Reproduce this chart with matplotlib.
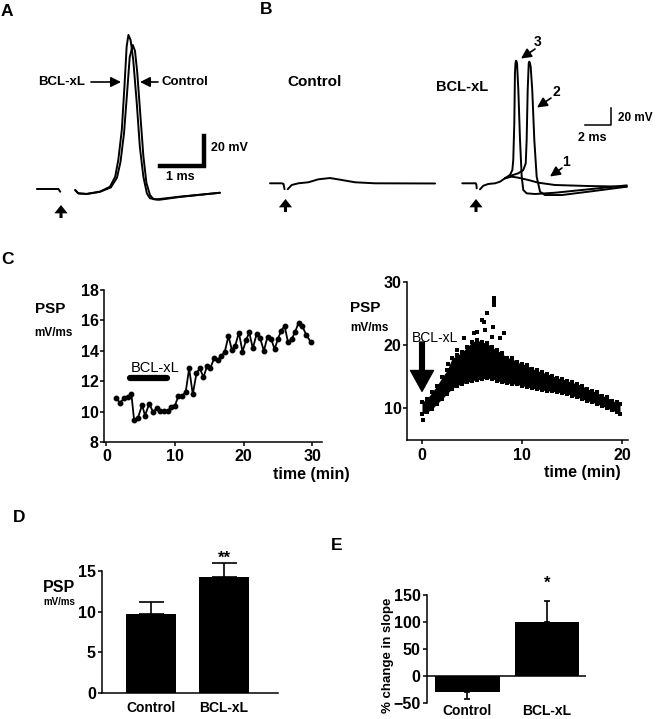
import matplotlib
matplotlib.use("Agg")
import matplotlib.pyplot as plt

plt.rcParams['font.family'] = ['Liberation Sans', 'DejaVu Sans']
plt.rcParams['font.weight'] = 'bold'
plt.rcParams['axes.linewidth'] = 1.1
plt.rcParams['axes.facecolor'] = 'none'

W, H = 656, 719

# ---------------- data ----------------
# Panel A (time in ms, potential in mV relative to baseline)
a_pre_t = [0.02, 0.51, 0.55]
a_pre_v = [0.0, 0.0, -1.8]
a_bcl_t = [0.89, 0.96, 1.15, 1.45, 1.68, 1.80, 1.87, 1.95, 2.01, 2.06, 2.10, 2.15, 2.21,
           2.29, 2.36, 2.44, 2.52, 2.59, 2.74, 3.27, 4.18]
a_bcl_v = [-0.7, -2.9, -3.3, -1.8, 1.5, 8.2, 19.3, 39.3, 68.2, 94.9, 102.7, 99.3, 86.0,
           57.3, 28.2, 8.2, -2.9, -6.2, -6.9, -5.1, -2.5]
a_ctl_t = [0.89, 0.96, 1.15, 1.45, 1.70, 1.84, 1.92, 2.00, 2.07, 2.13, 2.20, 2.25, 2.30,
           2.37, 2.44, 2.51, 2.59, 2.67, 2.80, 3.27, 4.18]
a_ctl_v = [-0.7, -2.9, -3.3, -1.9, 1.0, 7.5, 18.0, 37.0, 64.0, 88.0, 96.0, 92.0, 78.0,
           50.0, 22.0, 4.0, -4.0, -6.8, -7.2, -5.3, -2.5]

# Panel B control
bc_pre_t = [0.0, 0.9, 1.04, 1.12]
bc_pre_v = [0.0, 0.0, -0.8, -7.0]
bc_t = [1.36, 1.67, 2.18, 2.95, 3.72, 4.62, 5.52, 6.54, 8.08, 12.7]
bc_v = [-7.0, -2.0, 0.0, 1.2, 4.7, 6.2, 3.9, 1.2, 0.0, -0.2]

# Panel B BCL-xL
bb_pre_t = [0.0, 1.03, 1.08, 1.11]
bb_pre_v = [0.0, 0.0, -1.5, -5.9]
bb_com_t = [1.36, 1.62, 2.0, 2.52, 2.90, 3.28]
bb_com_v = [-7.1, -2.8, -0.8, 0.0, 1.9, 5.9]
bb1_t = [3.28, 3.80, 4.31, 5.08, 5.85, 7.13, 9.69, 12.65]
bb1_v = [5.9, 7.8, 6.6, 3.9, 0.7, -2.0, -3.2, -4.0]
bb3_t = [3.28, 3.67, 3.85, 3.92, 4.0, 4.05, 4.09, 4.13, 4.17, 4.21, 4.31, 4.44, 4.57,
         4.69, 4.95, 5.59, 7.13, 9.69, 12.65]
bb3_v = [5.9, 9.8, 15.6, 27.4, 70.6, 129.4, 141.0, 144.2, 143.5, 141.2, 109.8, 50.9, 7.8,
         -7.9, -11.8, -12.6, -11.1, -7.1, -2.4]
bb2_t = [3.28, 3.67, 4.31, 4.69, 4.88, 4.95, 5.03, 5.11, 5.15, 5.20, 5.26, 5.38, 5.54,
         5.72, 5.98, 6.36, 7.65, 9.69, 12.65]
bb2_v = [5.9, 8.6, 11.8, 15.6, 23.5, 50.9, 109.8, 141.2, 143.1, 141.5, 137.2, 109.8, 50.9,
         7.8, -9.9, -13.8, -13.8, -9.9, -4.0]

# Panel C left: PSP slope over time
c1_time = [1.41, 1.95, 2.63, 3.16, 3.65, 4.04, 4.62, 5.21, 5.64, 6.23, 6.81, 7.35, 7.88,
           8.42, 8.95, 9.44, 9.98, 10.51, 11.05, 11.58, 12.07, 12.60, 13.14, 13.63, 14.16,
           14.70, 15.18, 15.72, 16.25, 16.74, 17.27, 17.81, 18.30, 18.78, 19.32, 19.85,
           20.39, 20.83, 21.36, 21.90, 22.43, 22.97, 23.50, 24.04, 24.53, 25.01, 25.50,
           25.99, 26.47, 27.01, 27.54, 28.03, 28.56, 29.15, 29.78]
c1_psp = [10.93, 10.60, 10.89, 10.95, 11.17, 9.47, 9.62, 10.45, 9.75, 10.52, 10.01, 10.23,
          10.03, 10.03, 10.03, 10.34, 10.39, 11.04, 11.04, 11.33, 12.86, 11.15, 12.53, 12.86,
          12.27, 13.03, 12.90, 13.51, 13.40, 13.67, 13.95, 14.98, 14.06, 14.32, 15.20, 13.95,
          14.72, 15.22, 14.17, 15.09, 14.83, 14.00, 14.94, 14.78, 14.11, 14.78, 15.33, 15.64,
          14.61, 14.76, 15.26, 15.86, 15.64, 15.05, 14.61]
c1_drug_start, c1_drug_end, c1_drug_level = 3.5, 8.86, 12.2

# Panel C right: envelope of dense recording
c2_time = [0.0, 0.5, 1.0, 1.5, 2.0, 2.5, 3.0, 3.5, 4.0, 4.5, 5.0, 5.5, 6.0, 6.5, 7.0, 7.5,
           8.0, 8.5, 9.0, 9.5, 10.0, 10.5, 11.0, 11.5, 12.0, 12.5, 13.0, 13.5, 14.0, 14.5,
           15.0, 15.5, 16.0, 16.5, 17.0, 17.5, 18.0, 18.5, 19.0, 19.5, 19.8]
c2_upper = [11.0, 11.5, 12.55, 13.6, 14.9, 16.0, 17.9, 18.4, 18.9, 19.7, 20.5, 20.8, 20.5,
            20.3, 19.7, 19.2, 18.7, 18.0, 17.9, 17.3, 17.1, 16.8, 16.3, 16.0, 15.7, 15.5,
            15.2, 14.8, 14.7, 14.4, 14.1, 13.9, 13.6, 13.1, 12.8, 12.55, 12.0, 11.8, 11.2,
            11.0, 10.7]
c2_lower = [9.1, 9.4, 9.9, 10.7, 11.5, 12.3, 13.1, 13.6, 13.9, 14.1, 14.4, 14.5, 14.7, 14.8,
            14.7, 14.4, 14.1, 14.0, 13.9, 13.8, 13.6, 13.4, 13.2, 13.1, 12.9, 12.8, 12.7,
            12.6, 12.4, 12.3, 12.0, 11.8, 11.5, 11.2, 11.0, 10.7, 10.4, 10.05, 9.7, 9.4, 9.1]
c2_out_t = [0.05, 7.23, 7.23, 7.23, 6.5, 6.0, 6.23, 7.07, 8.17, 6.27, 4.17, 5.17, 5.5, 7.0,
            7.83, 3.5, 2.6]
c2_out_v = [8.2, 27.45, 26.8, 26.4, 25.05, 24.0, 23.7, 22.9, 22.0, 22.4, 21.1, 21.9, 22.1,
            21.3, 21.1, 19.3, 17.0]

# Panel D
d_groups = ['Control', 'BCL-xL']
d_mean = [9.7, 14.3]
d_sem = [1.5, 1.7]

# Panel E
e_groups = ['Control', 'BCL-xL']
e_mean = [-30, 100]
e_sem = [12, 39]

# ---------------- helpers ----------------
fig = plt.figure(figsize=(W / 100, H / 100), dpi=100)
ov = fig.add_axes([0, 0, 1, 1])
ov.set_xlim(0, W)
ov.set_ylim(H, 0)
ov.axis('off')


def add_ax(l, t, r, b):
    return fig.add_axes([l / W, 1 - b / H, (r - l) / W, (b - t) / H])


def trace_ax(l, t, r, b, x0, y0, pxx, pxy):
    ax = add_ax(l, t, r, b)
    ax.set_xlim((l - x0) / pxx, (r - x0) / pxx)
    ax.set_ylim((y0 - b) / pxy, (y0 - t) / pxy)
    ax.axis('off')
    return ax


def ftext(x, y, s, **kw):
    kw.setdefault('ha', 'left')
    kw.setdefault('va', 'center')
    ov.text(x, y, s, **kw)


def farrow(x1, y1, x2, y2):
    ov.annotate('', xy=(x2, y2), xytext=(x1, y1),
                arrowprops=dict(arrowstyle='-|>,head_length=0.6,head_width=0.3', lw=1.2,
                                color='k', shrinkA=0, shrinkB=0, mutation_scale=10))


def stim_arrow(x, ytip):
    ov.annotate('', xy=(x, ytip), xytext=(x, ytip + 13),
                arrowprops=dict(facecolor='k', edgecolor='k', width=2.2, headwidth=9.5,
                                headlength=6, shrink=0, lw=0))


TR = dict(color='k', lw=1.4, solid_joinstyle='round', solid_capstyle='round')

# ---------------- Panel A ----------------
axA = trace_ax(28, 20, 235, 206, 36, 189, 44, 1.5)
axA.plot(a_pre_t, a_pre_v, **TR)
axA.plot(a_ctl_t, a_ctl_v, **TR)
axA.plot(a_bcl_t, a_bcl_v, **TR)
axA.plot([2.82, 3.82, 3.82], [15.3, 15.3, 35.3], color='k', lw=3.2, solid_capstyle='projecting',
         solid_joinstyle='miter')
ftext(211, 148, '20 mV', fontsize=9)
ftext(180, 177, '1 ms', fontsize=9, ha='center')
ftext(38, 82, 'BCL-xL', fontsize=9.5)
farrow(91, 82, 121, 82)
ftext(161, 82, 'Control', fontsize=9.5)
farrow(158, 82, 140, 82)
stim_arrow(61, 205)

# ---------------- Panel B ----------------
axBc = trace_ax(265, 150, 445, 205, 270, 183.3, 13, 0.85)
axBc.plot(bc_pre_t, bc_pre_v, **TR)
axBc.plot(bc_t, bc_v, **TR)
stim_arrow(285.5, 199)

axBb = trace_ax(455, 30, 652, 210, 462.3, 183.3, 13, 0.85)
axBb.plot(bb_pre_t, bb_pre_v, **TR)
axBb.plot(bb_com_t, bb_com_v, **TR)
axBb.plot(bb1_t, bb1_v, **TR)
axBb.plot(bb3_t, bb3_v, **TR)
axBb.plot(bb2_t, bb2_v, **TR)
axBb.plot([9.44, 11.44, 11.44], [68.6, 68.6, 88.6], color='k', lw=1.1)
stim_arrow(476, 199)
ftext(618, 118, '20 mV', fontsize=8.5)
ftext(592, 138, '2 ms', fontsize=9, ha='center')
ftext(287, 82, 'Control', fontsize=11)
ftext(436, 87, 'BCL-xL', fontsize=10.5)
ftext(538, 42, '3', fontsize=10, ha='center')
farrow(535, 49, 521, 58.5)
ftext(556, 92, '2', fontsize=10, ha='center')
farrow(551, 98, 537, 107.5)
ftext(566, 162, '1', fontsize=10, ha='center')
farrow(562, 168, 550, 176.5)

# ---------------- Panel C left ----------------
TICK = dict(labelsize=11.5, width=1.1, length=3, direction='out')
axC1 = add_ax(104.3, 290, 321.7, 442.3)
axC1.plot(c1_time, c1_psp, color='k', lw=1.3, marker='o', ms=3.2, clip_on=False)
axC1.plot([c1_drug_start, c1_drug_end], [c1_drug_level, c1_drug_level], color='k', lw=4.5,
          solid_capstyle='round')
axC1.text((c1_drug_start + c1_drug_end) / 2 + 1.0, 12.86, 'BCL-xL', fontsize=10.5,
          fontweight='normal', ha='center', va='center')
axC1.set_xlim(-0.3, 31.4)
axC1.set_ylim(8, 18)
axC1.set_xticks([0, 10, 20, 30])
axC1.set_yticks([8, 10, 12, 14, 16, 18])
axC1.tick_params(axis='x', pad=2, **TICK)
axC1.tick_params(axis='y', pad=1, **TICK)
for s in ['top', 'right']:
    axC1.spines[s].set_visible(False)
ftext(35, 309, 'PSP', fontsize=11)
ftext(34, 333, 'mV/ms', fontsize=8.5)
ftext(273, 475, 'time (min)', fontsize=11.5)

# ---------------- Panel C right ----------------
axC2 = add_ax(407, 282, 628, 440)
axC2.fill_between(c2_time, c2_lower, c2_upper, color='k', lw=0)
axC2.scatter(c2_time, c2_upper, marker='s', s=5, color='k', lw=0)
axC2.scatter(c2_time, c2_lower, marker='s', s=5, color='k', lw=0)
axC2.scatter(c2_out_t, c2_out_v, marker='s', s=6, color='k', lw=0)
axC2.annotate('', xy=(0, 12.7), xytext=(0, 20.5),
              arrowprops=dict(facecolor='k', edgecolor='k', width=3.4, headwidth=16.5,
                              headlength=15, shrink=0))
axC2.text(-1.0, 21.1, 'BCL-xL', fontsize=10, fontweight='normal', ha='left', va='center')
axC2.set_xlim(-1.5, 20.6)
axC2.set_ylim(5, 30)
axC2.set_xticks([0, 10, 20])
axC2.set_yticks([10, 20, 30])
axC2.tick_params(axis='x', pad=3, **TICK)
axC2.tick_params(axis='y', pad=1, **TICK)
for s in ['top', 'right']:
    axC2.spines[s].set_visible(False)
ftext(350, 308, 'PSP', fontsize=11)
ftext(350, 328, 'mV/ms', fontsize=8.5)
ftext(582, 473, 'time (min)', fontsize=11.5, ha='center')

# ---------------- Panel D ----------------
axD = add_ax(102, 571, 278, 693)
xd = list(range(len(d_groups)))
axD.bar(xd, d_mean, width=0.685, color='k')
axD.errorbar(xd, d_mean, yerr=[[0] * len(d_sem), d_sem], fmt='none', ecolor='k',
             elinewidth=1.2, capsize=9, capthick=1.2, clip_on=False)
axD.text(1, 16.6, '**', fontsize=12, ha='center', va='center')
axD.set_xlim(-0.67, 1.74)
axD.set_ylim(0, 15)
axD.set_yticks([0, 5, 10, 15])
axD.set_xticks(xd)
axD.set_xticklabels(d_groups, fontsize=10)
axD.tick_params(axis='x', length=0, pad=6)
axD.tick_params(axis='y', labelsize=11.5, width=1.1, length=3, pad=1.5)
for s in ['top', 'right']:
    axD.spines[s].set_visible(False)
ftext(43, 588, 'PSP', fontsize=11.5)
ftext(43, 602, 'mV/ms', fontsize=7)

# ---------------- Panel E ----------------
axE = add_ax(426.7, 595, 586, 703)
xe = list(range(len(e_groups)))
axE.bar(xe, e_mean, width=0.81, color='k')
axE.errorbar(xe, e_mean,
             yerr=[[e if m < 0 else 0 for m, e in zip(e_mean, e_sem)],
                   [e if m > 0 else 0 for m, e in zip(e_mean, e_sem)]],
             fmt='none', ecolor='k', elinewidth=1.2, capsize=2.5, capthick=1.2)
axE.axhline(0, color='k', lw=1.1)
axE.text(1, 172, '*', fontsize=12, ha='center', va='center')
axE.set_xlim(-0.51, 1.49)
axE.set_ylim(-50, 150)
axE.set_yticks([-50, 0, 50, 100, 150])
axE.set_xticks(xe)
axE.set_xticklabels(e_groups, fontsize=10)
axE.tick_params(axis='x', length=0, pad=1)
axE.tick_params(axis='y', labelsize=11.5, width=1.1, length=3, pad=1.5)
for s in ['top', 'right', 'bottom']:
    axE.spines[s].set_visible(False)
ftext(388, 655, '% change in slope', fontsize=9.5, rotation=90, ha='center')

# ---------------- panel letters ----------------
for (x, y, s) in [(1, 12, 'A'), (260, 10, 'B'), (1, 259, 'C'), (13, 518, 'D'), (331, 545, 'E')]:
    ftext(x, y, s, fontsize=12.5)

fig.savefig('out.png', dpi=100)
